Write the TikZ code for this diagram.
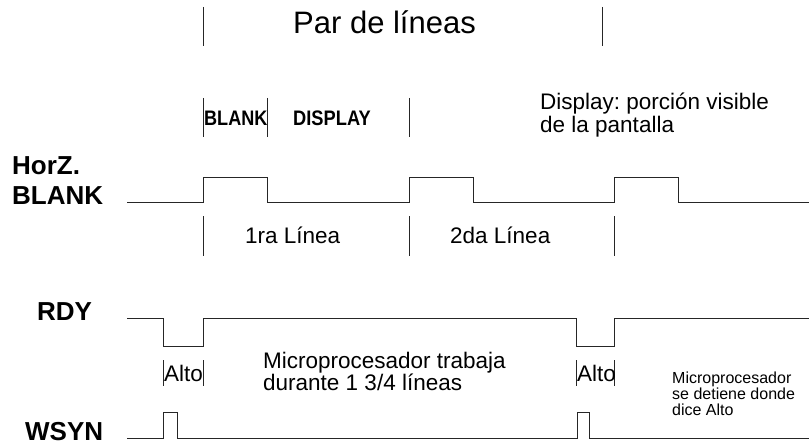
\documentclass[tikz,border=0pt]{standalone}
\usepackage{fontspec}
\setmainfont{Liberation Sans}
\frenchspacing
\begin{document}
\begin{tikzpicture}[x=1pt,y=-1pt,
  txt/.style={inner sep=0pt,anchor=base west,font=\fontsize{22.5}{26}\selectfont},
  big/.style={inner sep=0pt,anchor=base west,font=\fontsize{31}{36}\selectfont},
  small/.style={inner sep=0pt,anchor=base west,font=\fontsize{16}{19}\selectfont},
  sig/.style={inner sep=0pt,anchor=base west,font=\fontsize{26}{30}\selectfont\bfseries},
  seg/.style={inner sep=0pt,anchor=base west,font=\fontsize{21}{24}\selectfont\bfseries},
  wave/.style={draw=black!85,line width=0.9pt},
  tick/.style={draw=black!85,line width=0.9pt}]
\useasboundingbox (0,0) rectangle (809,444);

% top markers
\coordinate (t1a) at (203,7);  \coordinate (t1b) at (203,46);
\coordinate (t2a) at (602,7);  \coordinate (t2b) at (602,46);
\draw[tick] (t1a) -- (t1b);
\draw[tick] (t2a) -- (t2b);
\node[big] (par) at (293,34) {Par de líneas};

% blank / display markers
\coordinate (m1a) at (203,98); \coordinate (m1b) at (203,137);
\coordinate (m2a) at (267,98); \coordinate (m2b) at (267,137);
\coordinate (m3a) at (409,98); \coordinate (m3b) at (409,137);
\draw[tick] (m1a) -- (m1b);
\draw[tick] (m2a) -- (m2b);
\draw[tick] (m3a) -- (m3b);
\node[seg] (sblank) at (204,125) {\scalebox{0.86}[1]{BLANK}};
\node[seg] (sdisp) at (293,125) {\scalebox{0.87}[1]{DISPLAY}};
\node[txt] (disp1) at (540,110) {Display: porción visible};
\node[txt] (disp2) at (540,132) {de la pantalla};

% HorZ BLANK
\node[sig] (lhorz) at (12,174) {HorZ.};
\node[sig] (lblank) at (12,204) {BLANK};
\draw[wave] (127,202) -- (203,202) -- (203,177) -- (267,177) -- (267,202)
  -- (409,202) -- (409,177) -- (473,177) -- (473,202)
  -- (614,202) -- (614,177) -- (678,177) -- (678,202) -- (809,202);

% line markers
\coordinate (l1a) at (203,216); \coordinate (l1b) at (203,256);
\coordinate (l2a) at (409,216); \coordinate (l2b) at (409,256);
\coordinate (l3a) at (614,216); \coordinate (l3b) at (614,256);
\draw[tick] (l1a) -- (l1b);
\draw[tick] (l2a) -- (l2b);
\draw[tick] (l3a) -- (l3b);
\node[txt] (lin1) at (245,243) {1ra Línea};
\node[txt] (lin2) at (450,243) {2da Línea};

% RDY
\node[sig] (lrdy) at (37,320) {RDY};
\draw[wave] (127,318) -- (163,318) -- (163,346) -- (203,346) -- (203,318)
  -- (576,318) -- (576,346) -- (614,346) -- (614,318) -- (809,318);

% Alto markers
\coordinate (a1a) at (163,360); \coordinate (a1b) at (163,386);
\coordinate (a2a) at (203,360); \coordinate (a2b) at (203,386);
\coordinate (a3a) at (576,360); \coordinate (a3b) at (576,386);
\coordinate (a4a) at (614,360); \coordinate (a4b) at (614,386);
\draw[tick] (a1a) -- (a1b);
\draw[tick] (a2a) -- (a2b);
\draw[tick] (a3a) -- (a3b);
\draw[tick] (a4a) -- (a4b);
\node[txt] (alto1) at (164,381) {Alto};
\node[txt] (alto2) at (577,381) {Alto};

\node[txt] (mic1) at (263,368) {Microprocesador trabaja};
\node[txt] (mic2) at (263,390) {durante 1 3/4 líneas};

\node[small] (det1) at (672,383) {Microprocesador};
\node[small] (det2) at (672,399) {se detiene donde};
\node[small] (det3) at (672,415) {dice Alto};

% WSYN
\node[sig] (lwsyn) at (25,440) {WSYN};
\draw[wave] (127,438) -- (163,438) -- (163,412) -- (177,412) -- (177,438)
  -- (577,438) -- (577,412) -- (589,412) -- (589,438) -- (809,438);
\end{tikzpicture}
\end{document}
